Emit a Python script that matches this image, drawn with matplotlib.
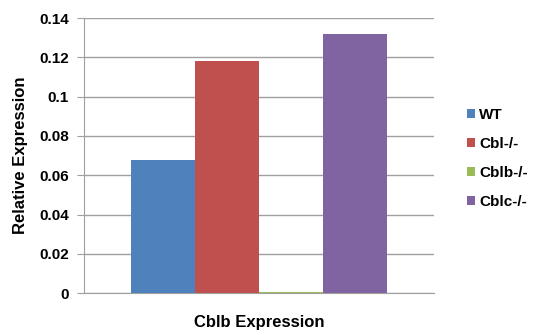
import matplotlib
matplotlib.use("Agg")
import matplotlib.pyplot as plt
import numpy as np

plt.rcParams['font.family'] = ['Liberation Sans', 'DejaVu Sans']
plt.rcParams['font.weight'] = 'bold'

series = ["WT", "Cbl-/-", "Cblb-/-", "Cblc-/-"]
values = [0.068, 0.118, 0.0005, 0.132]
colors = ["#4F81BD", "#C0504D", "#9BBB59", "#8064A2"]
category = "Cblb Expression"
yticks = [0, 0.02, 0.04, 0.06, 0.08, 0.1, 0.12, 0.14]
ytick_labels = ["0", "0.02", "0.04", "0.06", "0.08", "0.1", "0.12", "0.14"]

fig = plt.figure(figsize=(5.35, 3.35), dpi=100)
ax = fig.add_axes([0.157, 0.125, 0.654, 0.821])

n = len(series)
group_w = 0.73
bw = group_w / n
for i, (s, v, c) in enumerate(zip(series, values, colors)):
    x = -group_w / 2 + bw * (i + 0.5)
    ax.bar(x, v, width=bw, color=c, label=s, zorder=3)

ax.set_xlim(-0.5, 0.5)
ax.set_ylim(0, 0.14)
ax.set_yticks(yticks)
ax.set_yticklabels(ytick_labels, fontsize=11, fontweight='bold')
ax.set_xticks([])
ax.yaxis.grid(True, color="#A0A0A0", linewidth=1, zorder=0)
for sp in ["top", "right"]:
    ax.spines[sp].set_visible(False)
for sp in ["left", "bottom"]:
    ax.spines[sp].set_color("#A0A0A0")
ax.tick_params(axis='y', length=5, color="#A0A0A0", pad=6)
ax.set_ylabel("Relative Expression", fontsize=12, fontweight='bold', labelpad=8)
ax.set_xlabel(category, fontsize=12, fontweight='bold', labelpad=16)

leg = fig.legend(loc='upper left', bbox_to_anchor=(0.848, 0.718), frameon=False,
                 handlelength=0.5, handleheight=0.5, handletextpad=0.25,
                 labelspacing=0.98, prop={'weight': 'bold', 'size': 11})

fig.savefig("out.png", dpi=100)
